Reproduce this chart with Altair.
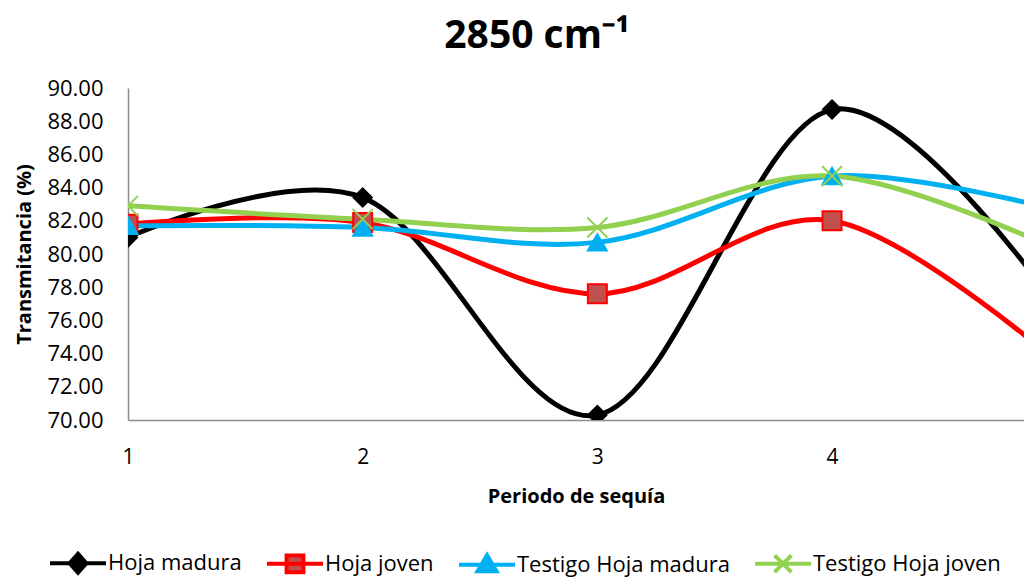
import altair as alt
import pandas as pd

# ---- data ----
periods = [1, 2, 3, 4, 5]
hoja_madura = [81.0, 83.4, 70.3, 88.7, 76.0]
hoja_joven = [81.8, 81.9, 77.6, 82.0, 73.0]
testigo_hoja_madura = [81.7, 81.6, 80.7, 84.7, 82.5]
testigo_hoja_joven = [82.9, 82.1, 81.6, 84.7, 80.0]

series_names = ["Hoja madura", "Hoja joven", "Testigo Hoja madura", "Testigo Hoja joven"]
series_values = [hoja_madura, hoja_joven, testigo_hoja_madura, testigo_hoja_joven]

y_ticks = [70, 72, 74, 76, 78, 80, 82, 84, 86, 88, 90]
x_ticks = [1, 2, 3, 4]

# ---- styles ----
line_colors = ["#000000", "#FF0000", "#00B0F0", "#92D050"]
fill_colors = ["#000000", "#C0504D", "#00B0F0", "transparent"]
marker_shapes = ["diamond", "square", "triangle-up", "M-1,-1L1,1M-1,1L1,-1"]
marker_sizes = [330, 360, 360, 400]
legend_shapes = [
    "M-1,0H1M-0.3,0L0,-0.34L0.3,0L0,0.34Z",
    "M-1,0H1M-0.3,-0.3H0.3V0.3H-0.3Z",
    "M-1,0H1M0,-0.34L0.34,0.24L-0.34,0.24Z",
    "M-1,0H1M-0.3,-0.3L0.3,0.3M-0.3,0.3L0.3,-0.3",
]

rows = []
for name, vals in zip(series_names, series_values):
    for p, v in zip(periods, vals):
        rows.append({"periodo": p, "valor": v, "serie": name})
df = pd.DataFrame(rows)

FONT = "Open Sans"

x_enc = alt.X(
    "periodo:Q",
    scale=alt.Scale(domain=[1, 4.818], nice=False, zero=False),
    axis=alt.Axis(
        values=x_ticks, format="d", grid=False, ticks=False, labelFlush=False,
        labelFontSize=21, labelPadding=26, labelColor="#000000",
        domainColor="#8c8c8c", domainWidth=1.5,
        title="Periodo de sequía", titleFontSize=20, titleFontWeight="bold",
        titleColor="#000000", titlePadding=19,
    ),
)
y_enc = alt.Y(
    "valor:Q",
    scale=alt.Scale(domain=[70, 90], nice=False, zero=False),
    axis=alt.Axis(
        values=y_ticks, format=".2f", grid=False, ticks=False,
        labelFontSize=22, labelPadding=25, labelColor="#000000",
        domainColor="#8c8c8c", domainWidth=1.5,
        title="Transmitancia (%)", titleFontSize=20, titleFontWeight="bold",
        titleColor="#000000", titlePadding=12,
    ),
)

stroke_scale = alt.Scale(domain=series_names, range=line_colors)
fill_scale = alt.Scale(domain=series_names, range=fill_colors)
legend_shape_scale = alt.Scale(domain=series_names, range=legend_shapes)

legend = alt.Legend(
    title=None, orient="none", legendX=-80, legendY=445, direction="horizontal",
    symbolSize=3136, symbolStrokeWidth=4, labelFontSize=22, labelFont=FONT,
    labelColor="#000000", labelOffset=0, columnPadding=17, padding=0,
    labelLimit=500, symbolOpacity=1,
)

lines = alt.Chart(df).mark_line(interpolate="cardinal", strokeWidth=5, clip=True).encode(
    x=x_enc, y=y_enc,
    stroke=alt.Stroke("serie:N", scale=stroke_scale, legend=legend, sort=series_names),
)

marker_layers = []
for name, shp, sz, lc, fc in zip(series_names, marker_shapes, marker_sizes, line_colors, fill_colors):
    marker_layers.append(
        alt.Chart(df)
        .transform_filter(alt.datum.serie == name)
        .mark_point(shape=shp, size=sz, stroke=lc, fill=fc, strokeWidth=2,
                    opacity=1, fillOpacity=1, clip=True)
        .encode(x=x_enc, y=y_enc)
    )

# legend carrier: only the points beyond the visible x range (clipped away)
legend_layer = alt.Chart(df).transform_filter(alt.datum.periodo > 4.9).mark_point(
    size=360, strokeWidth=2, opacity=1, clip=True
).encode(
    x=x_enc, y=y_enc,
    stroke=alt.Stroke("serie:N", scale=stroke_scale, legend=legend, sort=series_names),
    fill=alt.Fill("serie:N", scale=fill_scale, legend=legend, sort=series_names),
    shape=alt.Shape("serie:N", scale=legend_shape_scale, legend=legend, sort=series_names),
)

chart = (
    alt.layer(lines, *marker_layers, legend_layer)
    .properties(
        width=896, height=332,
        title=alt.TitleParams(
            "2850 cm⁻¹", fontSize=39, font=FONT, fontWeight="bold", color="#000000",
            anchor="middle", dx=-39, offset=21,
        ),
        autosize=alt.AutoSizeParams(type="none"),
        padding={"left": 120, "top": 80, "right": 0, "bottom": 158},
    )
    .configure(font=FONT)
    .configure_view(stroke=None)
)

chart.save("out.html", embed_options={"renderer": "svg", "actions": False})
